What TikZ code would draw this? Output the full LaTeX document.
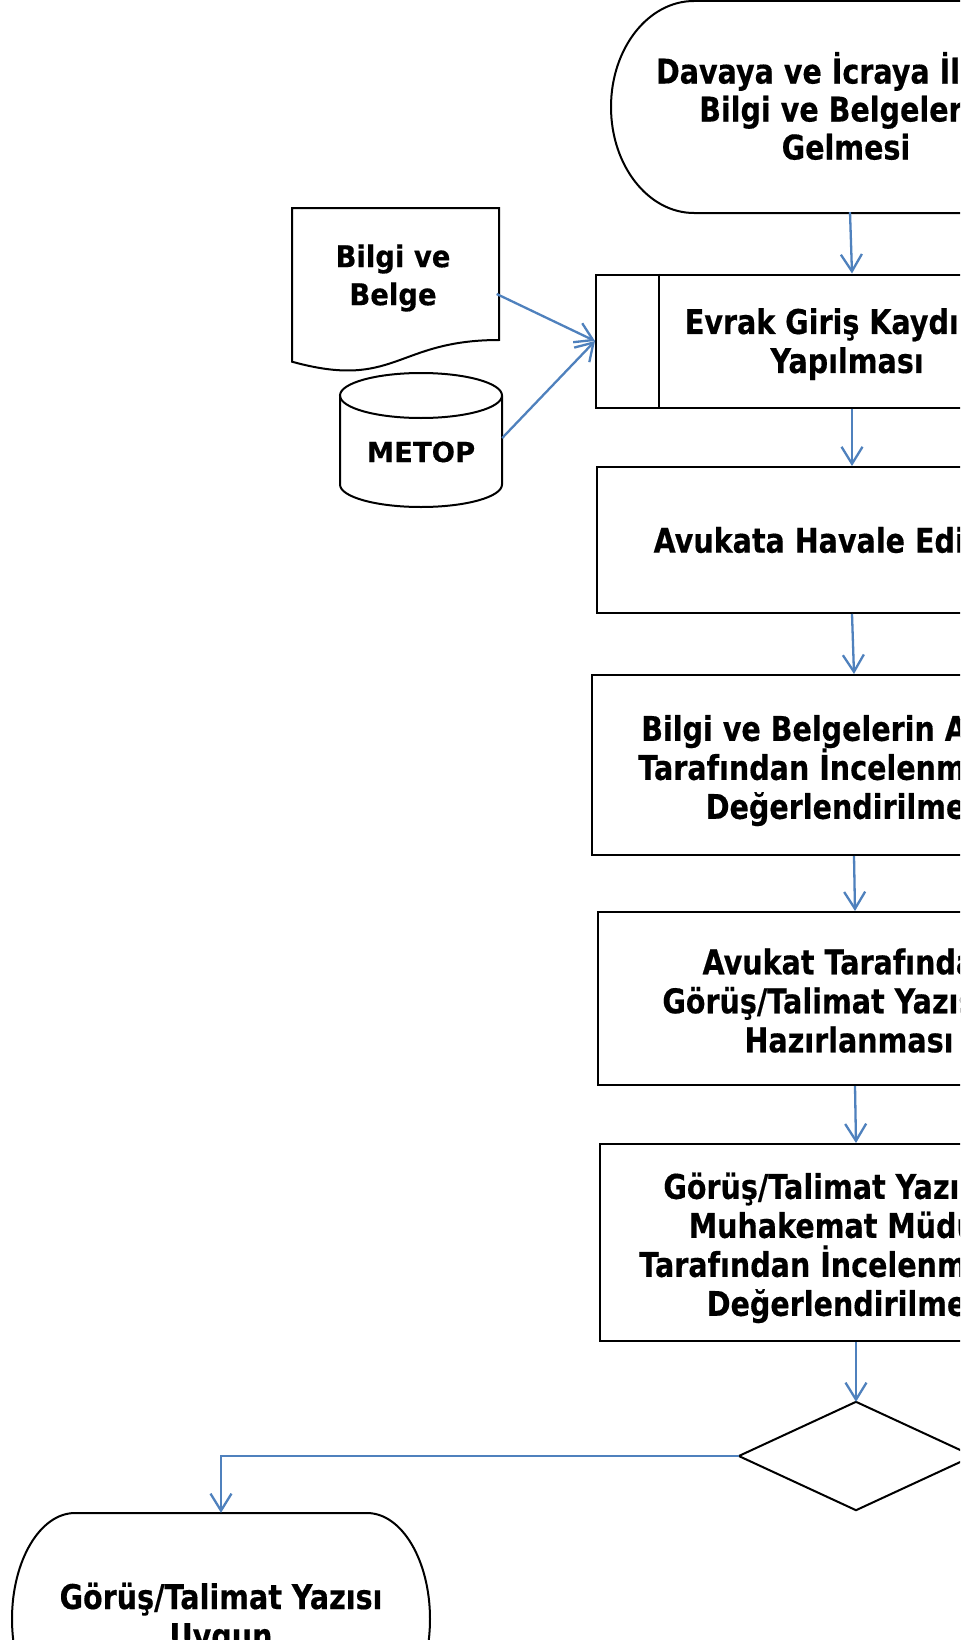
\documentclass[tikz,border=0pt]{standalone}
\usepackage{fontspec}
\setmainfont{DejaVu Sans}[FakeStretch=0.84, BoldFeatures={FakeBold=0.4}]
\newfontfamily\docfont{DejaVu Sans}[FakeStretch=0.915, BoldFeatures={FakeBold=0.4}]
\newfontfamily\metfont{DejaVu Sans}[BoldFeatures={FakeBold=0.4}]
\usetikzlibrary{arrows.meta}
\definecolor{flowblue}{RGB}{79,129,189}
\newcommand{\lift}[1]{\rule{0pt}{#1pt}}
\begin{document}
\begin{tikzpicture}[x=1pt,y=-1pt,
  txt/.style={font=\fontsize{34}{39}\selectfont\bfseries, align=center, inner sep=0pt},
  box/.style={txt, draw=black, line width=2pt, rectangle},
  ghost/.style={txt, rectangle},
  outline/.style={draw=black, line width=2pt},
  link/.style={draw=flowblue, line width=2.3pt, -{Straight Barb[length=17pt,width=21pt,line width=2.3pt]}}]
\fill[white] (0,0) rectangle (974,1640);
\useasboundingbox (0,0) rectangle (974,1640);
\begin{scope}
\clip (0,0) rectangle (960,1640);

% top terminator
\draw[outline] (694,1) -- (1110,1) -- (1110,213) -- (694,213)
  arc[start angle=90, end angle=270, x radius=83, y radius=106] -- cycle;
\node[ghost, font=\fontsize{34}{38}\selectfont\bfseries, minimum width=470pt, minimum height=212pt] (t1) at (846,106)
  {Davaya ve İcraya İlişkin\\Bilgi ve Belgelerin\\Gelmesi};

% document
\draw[outline] (292,208) -- (499,208) -- (499,340)
  .. controls (395.5,340) and (395.5,390.3) .. (292,361.7) -- cycle;
\node[ghost, font=\fontsize{30}{38}\selectfont\docfont\bfseries, minimum width=207pt] (doc) at (393,278) {Bilgi ve\\Belge};

% cylinder
\draw[outline] (340,395.5) -- (340,484.5)
  arc[start angle=180, end angle=0, x radius=81, y radius=22.5] -- (502,395.5);
\draw[outline] (421,395.5) ellipse [x radius=81, y radius=22.5];
\node[ghost, font=\fontsize{27.5}{33}\selectfont\metfont\bfseries, minimum width=162pt] (cyl) at (421,452) {METOP};

% predefined process
\node[box, minimum width=502pt, minimum height=133pt] (evrak) at (847,341)
  {\lift{32}Evrak Giriş Kaydının\\Yapılması};
\draw[outline] ([xshift=64pt]evrak.north west) -- ([xshift=64pt]evrak.south west);

\node[box, minimum width=510pt, minimum height=146pt] (avukata) at (852,540)
  {Avukata Havale Edilmesi};
\node[box, minimum width=514pt, minimum height=180pt] (bilgi) at (849,765)
  {\lift{37}Bilgi ve Belgelerin Avukat\\Tarafından İncelenmesi ve\\Değerlendirilmesi};
\node[box, minimum width=502pt, minimum height=173pt] (avukat) at (849,998.5)
  {\lift{30}Avukat Tarafından\\Görüş/Talimat Yazısının\\Hazırlanması};
\node[box, minimum width=500pt, minimum height=197pt] (gorus) at (850,1242.5)
  {\lift{37}Görüş/Talimat Yazısının\\Muhakemat Müdürü\\Tarafından İncelenmesi ve\\Değerlendirilmesi};

% decision
\node[ghost, minimum width=234pt, minimum height=108pt] (dia) at (856,1456) {};
\draw[outline] (dia.north) -- (dia.east) -- (dia.south) -- (dia.west) -- cycle;

% bottom terminator
\draw[outline] (75,1513) -- (367,1513)
  arc[start angle=270, end angle=450, x radius=63, y radius=106] -- (75,1725)
  arc[start angle=90, end angle=270, x radius=63, y radius=106] -- cycle;
\node[ghost, minimum width=418pt, minimum height=212pt] (t2) at (221,1619)
  {Görüş/Talimat Yazısı\\Uygun};

% connectors
\draw[link] ([xshift=4pt]t1.south) -- ([xshift=5pt]evrak.north);
\draw[link] ([yshift=-16pt]doc.east) -- (evrak.west);
\draw[link] ([yshift=14pt]cyl.east) -- (evrak.west);
\draw[link] ([xshift=5pt]evrak.south) -- (avukata.north);
\draw[link] (avukata.south) -- ([xshift=5pt]bilgi.north);
\draw[link] ([xshift=5pt]bilgi.south) -- ([xshift=6pt]avukat.north);
\draw[link] ([xshift=6pt]avukat.south) -- ([xshift=6pt]gorus.north);
\draw[link] ([xshift=6pt]gorus.south) -- (dia.north);
\draw[link] (dia.west) -| (t2.north);
\end{scope}
\end{tikzpicture}
\end{document}
